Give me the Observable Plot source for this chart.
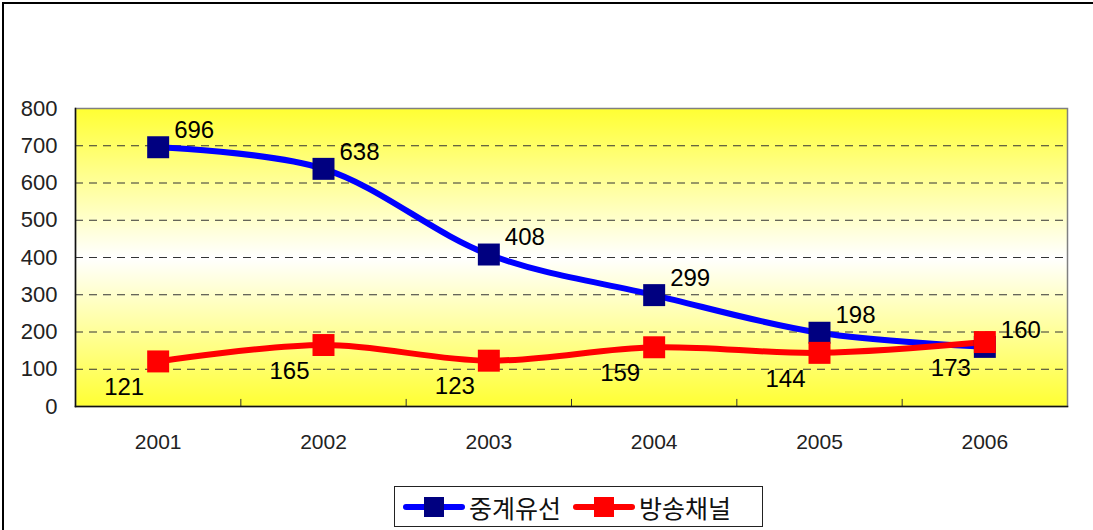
<!DOCTYPE html>
<html>
<head>
<meta charset="utf-8">
<script src="https://cdn.jsdelivr.net/npm/d3@7"></script>
<script src="https://cdn.jsdelivr.net/npm/@observablehq/plot@0.6"></script>
<style>
  html, body { margin: 0; padding: 0; background: #fff; }
  #wrap { position: relative; width: 1093px; height: 530px; overflow: hidden; }
  #border { position: absolute; left: 2px; top: 2px; width: 1100px; height: 540px; border-left: 2px solid #000; border-top: 2px solid #000; box-sizing: border-box; }
  #chart { position: absolute; left: 0; top: 0; }
  #legend { position: absolute; left: 394px; top: 486px; width: 369px; height: 41px; border: 1px solid #222; box-sizing: border-box; display: flex; align-items: center; font-family: "Noto Sans CJK KR", sans-serif; font-size: 25px; color: #111; }
  #legend .item { display: flex; align-items: center; }
  #legend svg { display: block; }
</style>
</head>
<body>
<div id="wrap">
  <div id="border"></div>
  <div id="chart"></div>
  <div id="legend"></div>
</div>
<script>
const years = ["2001", "2002", "2003", "2004", "2005", "2006"];
const relayCable = [696, 638, 408, 299, 198, 160];   // 중계유선
const channels = [121, 165, 123, 159, 144, 173];     // 방송채널
const seriesNames = ["중계유선", "방송채널"];
const yTicks = [0, 100, 200, 300, 400, 500, 600, 700, 800];
const gridValues = [100, 200, 300, 400, 500, 600, 700];

const lineColors = ["#0000ff", "#ff0000"];
const markerColors = ["#000080", "#ff0000"];

// categorical positions 1..n on a linear scale so band boundaries can carry tick marks
const blue = years.map((y, i) => ({pos: i + 1, year: y, value: relayCable[i]}));
const red = years.map((y, i) => ({pos: i + 1, year: y, value: channels[i]}));
const positions = years.map((y, i) => i + 1);
const boundaries = years.slice(1).map((y, i) => i + 1.5);

const numFont = "Liberation Sans, Arial, sans-serif";

const chart = Plot.plot({
  width: 1093,
  height: 470,
  marginLeft: 75,
  marginRight: 26,
  marginTop: 108,
  marginBottom: 64,
  style: {fontFamily: numFont, background: "transparent", overflow: "visible"},
  x: {type: "linear", domain: [0.5, years.length + 0.5], label: null},
  y: {domain: [0, 800], label: null},
  marks: [
    Plot.frame({fill: "url(#bgGrad)", stroke: "#808080", strokeWidth: 1.5}),
    Plot.ruleY(gridValues, {stroke: "#333", strokeDasharray: "8,6", strokeWidth: 1}),
    Plot.ruleX(boundaries, {y1: 0, y2: 19, stroke: "#333", strokeWidth: 1}),
    Plot.frame({anchor: "left", stroke: "#111", strokeWidth: 1.5}),
    Plot.frame({anchor: "bottom", stroke: "#111", strokeWidth: 1.5}),
    Plot.axisY({ticks: yTicks, tickSize: 0, tickPadding: 18, fontSize: 22, fill: "#222", label: null, tickFormat: d => String(d)}),
    Plot.axisX({ticks: positions, tickSize: 0, tickPadding: 28, fontSize: 21, fill: "#222", label: null, tickFormat: d => years[d - 1]}),
    Plot.line(blue, {x: "pos", y: "value", stroke: lineColors[0], strokeWidth: 6, curve: "catmull-rom"}),
    Plot.line(red, {x: "pos", y: "value", stroke: lineColors[1], strokeWidth: 6, curve: "catmull-rom"}),
    Plot.dot(blue, {x: "pos", y: "value", symbol: "square", r: 12.4, fill: markerColors[0], stroke: "none"}),
    Plot.dot(red, {x: "pos", y: "value", symbol: "square", r: 12.4, fill: markerColors[1], stroke: "none"}),
    Plot.text(blue, {x: "pos", y: "value", text: d => String(d.value), dx: 36, dy: -17, fontSize: 24, fill: "#000", textAnchor: "middle"}),
    Plot.text(red, {x: "pos", y: "value", text: d => String(d.value), dx: -34, dy: 26, fontSize: 24, fill: "#000", textAnchor: "middle"})
  ]
});

// gradient defs
const ns = "http://www.w3.org/2000/svg";
const defs = document.createElementNS(ns, "defs");
defs.innerHTML = `<linearGradient id="bgGrad" x1="0" y1="0" x2="0" y2="1">
  <stop offset="0" stop-color="#ffff33"/>
  <stop offset="0.5" stop-color="#ffffff"/>
  <stop offset="1" stop-color="#ffff33"/>
</linearGradient>`;
chart.insertBefore(defs, chart.firstChild);
document.getElementById("chart").appendChild(chart);

// legend
const legend = document.getElementById("legend");
seriesNames.forEach((name, i) => {
  const item = document.createElement("div");
  item.className = "item";
  item.style.marginLeft = i === 0 ? "8px" : "12px";
  item.innerHTML = `<svg width="62" height="24"><line x1="3" y1="12" x2="59" y2="12" stroke="${lineColors[i]}" stroke-width="6" stroke-linecap="round"/><rect x="21" y="2" width="20" height="20" fill="${markerColors[i]}"/></svg><span style="margin-left:4px;letter-spacing:0px">${name}</span>`;
  legend.appendChild(item);
});
</script>
</body>
</html>
